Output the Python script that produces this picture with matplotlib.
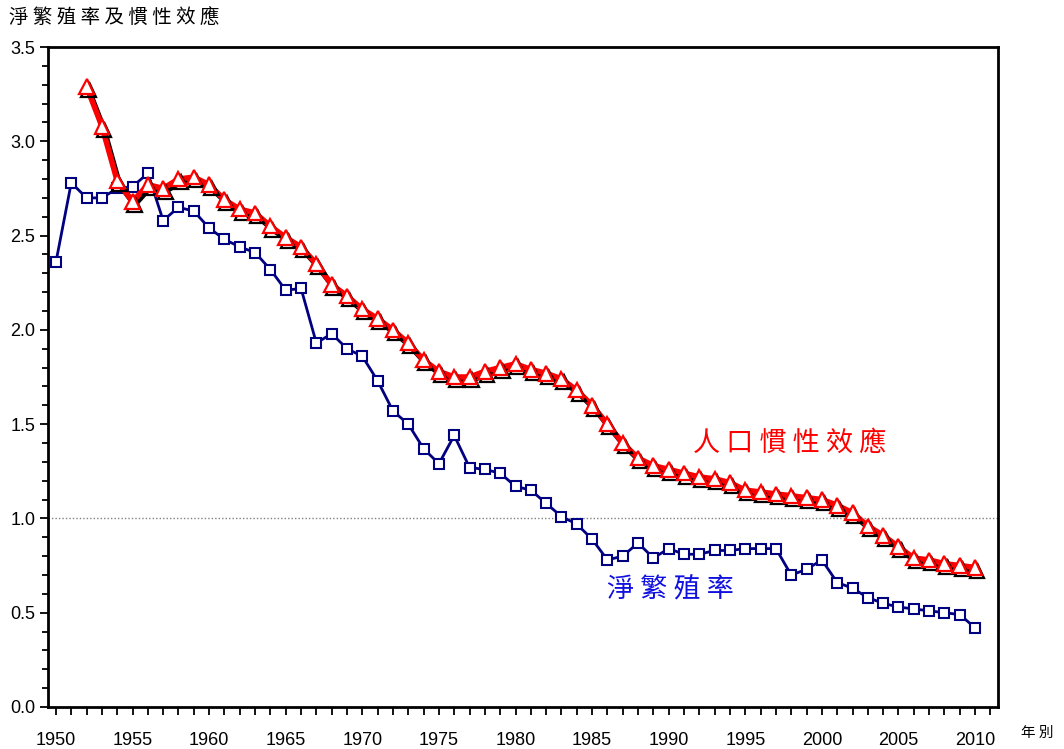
import matplotlib
matplotlib.use("Agg")
import matplotlib.pyplot as plt
import matplotlib.patheffects as pe
from matplotlib.ticker import MultipleLocator

plt.rcParams["font.family"] = ["Liberation Sans", "Noto Sans CJK TC", "DejaVu Sans"]

years_nrr = list(range(1950, 2011))
nrr = [2.36, 2.78, 2.70, 2.70, 2.75, 2.76, 2.83, 2.58, 2.65, 2.63,
       2.54, 2.48, 2.44, 2.41, 2.32, 2.21, 2.22, 1.93, 1.98, 1.90,
       1.86, 1.73, 1.57, 1.50, 1.37, 1.29, 1.44, 1.27, 1.26, 1.24,
       1.17, 1.15, 1.08, 1.01, 0.97, 0.89, 0.78, 0.80, 0.87, 0.79,
       0.84, 0.81, 0.81, 0.83, 0.83, 0.84, 0.84, 0.84, 0.70, 0.73,
       0.78, 0.66, 0.63, 0.58, 0.55, 0.53, 0.52, 0.51, 0.50, 0.49,
       0.42]

years_mom = list(range(1952, 2011))
momentum = [3.29, 3.08, 2.79, 2.68, 2.77, 2.75, 2.80, 2.81,
            2.77, 2.69, 2.64, 2.62, 2.55, 2.49, 2.44, 2.35, 2.24, 2.18,
            2.11, 2.06, 2.00, 1.93, 1.84, 1.78, 1.75, 1.75, 1.78, 1.80,
            1.82, 1.79, 1.77, 1.74, 1.68, 1.60, 1.50, 1.40, 1.32, 1.28,
            1.26, 1.24, 1.22, 1.21, 1.19, 1.15, 1.14, 1.13, 1.12, 1.11,
            1.10, 1.07, 1.03, 0.96, 0.91, 0.85, 0.79, 0.78, 0.76, 0.75,
            0.74]

xticks = list(range(1950, 2011, 5))

fig = plt.figure(figsize=(10.64, 7.49), dpi=100)
ax = fig.add_axes([0.0451, 0.0561, 0.8929, 0.8811])

ax.axhline(1.0, color="#808080", lw=1, ls=(0, (1, 1.5)), zorder=1)

ax.plot(years_nrr, nrr, color="#000080", lw=2, marker="s", ms=7,
        mfc="white", mec="#000080", mew=1.5, zorder=3)

shadow = [pe.SimpleLineShadow(offset=(1.5, -2.2), shadow_color="black", alpha=1.0),
          pe.Normal()]
ax.plot(years_mom, momentum, color="#ff0000", lw=4, marker="^", ms=10.5,
        mfc="white", mec="#ff0000", mew=1.6, zorder=4, path_effects=shadow)

ax.set_xlim(1949.48, 2011.5)
ax.set_ylim(0, 3.5)
ax.set_xticks(xticks)
ax.xaxis.set_minor_locator(MultipleLocator(1))
ax.yaxis.set_major_locator(MultipleLocator(0.5))
ax.yaxis.set_minor_locator(MultipleLocator(0.1))
ax.yaxis.set_major_formatter(matplotlib.ticker.FormatStrFormatter("%.1f"))
ax.tick_params(axis="x", which="both", direction="out", length=6, width=1.3,
               labelsize=13, pad=12)
ax.tick_params(axis="y", which="major", direction="out", length=6, width=1.3,
               labelsize=13, pad=3)
ax.tick_params(axis="y", which="minor", direction="out", length=4, width=1.3)
for s in ax.spines.values():
    s.set_linewidth(2)

cjk = ["Noto Sans CJK TC", "DejaVu Sans"]
fig.text(0.008, 0.975, " ".join("淨繁殖率及慣性效應"), fontsize=14, family=cjk,
         ha="left", va="center")
fig.text(0.960, 0.022, " ".join("年別"), fontsize=10.5, family=cjk,
         ha="left", va="center")
ax.text(1991.6, 1.40, " ".join("人口慣性效應"), color="#ff0000", fontsize=19.5,
        family=cjk, ha="left", va="center")
ax.text(1986.0, 0.62, " ".join("淨繁殖率"), color="#1010e0", fontsize=19.5,
        family=cjk, ha="left", va="center")

fig.savefig("out.png", dpi=100)
